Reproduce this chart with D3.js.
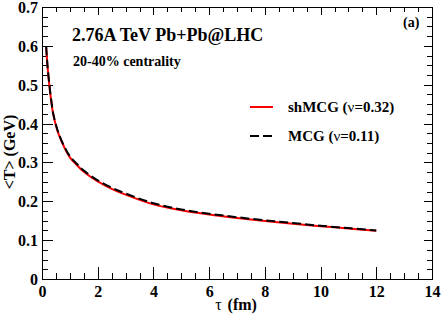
<!DOCTYPE html>
<html>
<head>
<meta charset="utf-8">
<script src="https://cdn.jsdelivr.net/npm/d3@7"></script>
<style>
  body { margin: 0; background: #fff; }
  svg { display: block; }
</style>
</head>
<body>
<svg id="chart"></svg>
<script>
// proper time (fm/c)
const tau = [0.15, 0.2, 0.3, 0.4, 0.5, 0.6, 0.8, 1.0, 1.2, 1.5, 2.0, 2.5, 3.0, 4.0, 5.0, 6.0, 7.0, 8.0, 9.0, 10.0, 11.0, 12.0];
// <T> in GeV
const shMCG = [0.596, 0.545, 0.476, 0.425, 0.395, 0.372, 0.339, 0.313, 0.297, 0.276, 0.251, 0.232, 0.217, 0.192, 0.177, 0.166, 0.157, 0.149, 0.142, 0.136, 0.130, 0.124];
const MCG = [0.598, 0.547, 0.478, 0.427, 0.397, 0.374, 0.341, 0.316, 0.300, 0.279, 0.254, 0.235, 0.220, 0.195, 0.179, 0.168, 0.159, 0.151, 0.144, 0.137, 0.131, 0.125];

const xTicks = [0, 2, 4, 6, 8, 10, 12, 14];
const yTicks = [0, 0.1, 0.2, 0.3, 0.4, 0.5, 0.6, 0.7];

const FONT = "'Liberation Serif', 'Times New Roman', Times, serif";

const margin = { top: 7, right: 10, bottom: 35, left: 42 };
const W = 442, H = 314;
const width = W - margin.left - margin.right;
const height = H - margin.top - margin.bottom;

const svg = d3.select("#chart").attr("width", W).attr("height", H)
  .attr("font-family", FONT).attr("font-weight", "bold");
const g = svg.append("g").attr("transform", "translate(" + margin.left + "," + margin.top + ")");

const x = d3.scaleLinear().domain([0, 14]).range([0, width]);
const y = d3.scaleLinear().domain([0, 0.7]).range([height, 0]);

const xMinor = d3.range(0, 14.01, 0.5);
const yMinor = d3.range(0, 0.701, 0.025);

const fmtY = d => (d === 0 ? "0" : d3.format(".1f")(d));

// minor ticks
g.append("g").attr("transform", "translate(0," + height + ")")
  .call(d3.axisBottom(x).tickValues(xMinor).tickSize(-6).tickFormat(""));
g.append("g").call(d3.axisLeft(y).tickValues(yMinor).tickSize(-6).tickFormat(""));
g.append("g").call(d3.axisTop(x).tickValues(xMinor).tickSize(-5).tickFormat(""));
g.append("g").attr("transform", "translate(" + width + ",0)")
  .call(d3.axisRight(y).tickValues(yMinor).tickSize(-5).tickFormat(""));

// major ticks
const xAxis = g.append("g").attr("transform", "translate(0," + height + ")")
  .call(d3.axisBottom(x).tickValues(xTicks).tickSize(-12).tickFormat(d3.format("d")));
const yAxis = g.append("g")
  .call(d3.axisLeft(y).tickValues(yTicks).tickSize(-11).tickFormat(fmtY));
g.append("g").call(d3.axisTop(x).tickValues(xTicks).tickSize(-8).tickFormat(""));
g.append("g").attr("transform", "translate(" + width + ",0)")
  .call(d3.axisRight(y).tickValues(yTicks).tickSize(-8).tickFormat(""));

g.selectAll("g").attr("font-family", FONT);
xAxis.selectAll("text").attr("font-size", 16).attr("dy", "0.71em").attr("y", 7);
yAxis.selectAll("text").attr("font-size", 16).attr("x", -4).attr("dy", "0.34em");
g.selectAll(".domain").remove();
g.selectAll(".tick line").attr("stroke", "#000").attr("shape-rendering", "crispEdges");
g.selectAll(".tick text").attr("fill", "#000");

// frame
g.append("rect").attr("width", width).attr("height", height)
  .attr("fill", "none").attr("stroke", "#000").attr("stroke-width", 1)
  .attr("shape-rendering", "crispEdges");

// curves
const line = vals => d3.line().x((d, i) => x(tau[i])).y(d => y(d)).curve(d3.curveCatmullRom.alpha(0.5))(vals);

g.append("path").attr("d", line(shMCG))
  .attr("fill", "none").attr("stroke", "#ff0000").attr("stroke-width", 2);
g.append("path").attr("d", line(MCG))
  .attr("fill", "none").attr("stroke", "#000").attr("stroke-width", 2)
  .attr("stroke-dasharray", "9,4");

// annotations
svg.append("text").attr("x", 72).attr("y", 41).attr("font-size", 18)
  .text("2.76A TeV Pb+Pb@LHC");
svg.append("text").attr("x", 73).attr("y", 66).attr("font-size", 14)
  .text("20-40% centrality");
svg.append("text").attr("x", 403).attr("y", 27).attr("font-size", 14)
  .text("(a)");

// legend
const legend = [
  { name: "shMCG (", nu: "0.32)", color: "#ff0000", dash: null, y: 107 },
  { name: "MCG (", nu: "0.11)", color: "#000", dash: "9,4", y: 136 }
];
legend.forEach(l => {
  svg.append("line").attr("x1", 250).attr("x2", 273).attr("y1", l.y).attr("y2", l.y)
    .attr("stroke", l.color).attr("stroke-width", 2).attr("stroke-dasharray", l.dash);
  const t = svg.append("text").attr("x", 288).attr("y", l.y + 5).attr("font-size", 15);
  t.append("tspan").text(l.name);
  t.append("tspan").attr("font-weight", "normal").text("\u03bd");
  t.append("tspan").text("=" + l.nu);
});

// axis titles
const xt = svg.append("text").attr("x", 236).attr("y", 310).attr("text-anchor", "middle").attr("font-size", 16);
xt.append("tspan").attr("font-weight", "normal").text("\u03c4");
xt.append("tspan").attr("dx", 6).text("(fm)");

svg.append("text")
  .attr("transform", "translate(15,152) rotate(-90)")
  .attr("text-anchor", "middle").attr("font-size", 16)
  .text("<T> (GeV)");
</script>
</body>
</html>
